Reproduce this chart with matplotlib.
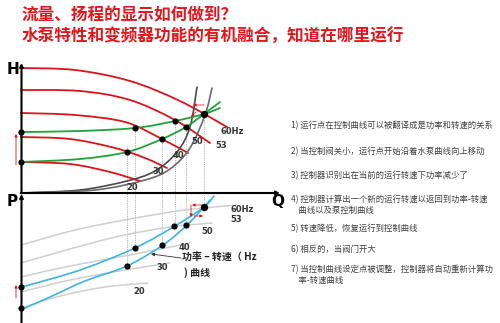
import numpy as np
import matplotlib
matplotlib.use("Agg")
import matplotlib.pyplot as plt
from matplotlib.path import Path
from matplotlib.patches import PathPatch

plt.rcParams['font.family'] = ['Noto Sans CJK SC', 'DejaVu Sans']

# ---------------- data (pixel units) ----------------
title_lines = ["流量、扬程的显示如何做到？", "水泵特性和变频器功能的有机融合，知道在哪里运行"]

# upper chart: pump curves at different speeds (H vs Q)
pump_labels = ["60Hz", "53", "50", "40", "30", "20"]
pump_60_x = [21, 75, 130, 180, 227]
pump_60_y = [68, 70, 81, 101, 127]
pump_53_x = [21, 80, 130, 175, 210]
pump_53_y = [90, 91, 100, 120, 143]
pump_50_x = [21, 75, 125, 160, 188]
pump_50_y = [113, 115, 122, 138, 153]
pump_40_x = [21, 70, 115, 145, 167]
pump_40_y = [137, 139, 148, 158, 168]
pump_30_x = [21, 70, 110, 140]
pump_30_y = [162, 164, 172, 181]

# green control curves
ctrl_a_x = [21, 80, 135, 175, 204, 220]
ctrl_a_y = [132, 131, 128, 121, 114, 108]
ctrl_b_x = [21, 80, 127, 162, 186, 204, 220]
ctrl_b_y = [162, 159, 152, 139, 127, 114, 102]

# system curves
sys_a_x = [21, 80, 127, 155, 177, 190, 197]
sys_a_y = [193, 190, 181, 171, 152, 127, 87]
sys_b_x = [21, 95, 145, 170, 190, 205, 212]
sys_b_y = [193, 190, 180, 169, 148, 115, 88]

# lower chart: power curves (P vs Q)
pow_60_x = [21, 75, 130, 185, 237]
pow_60_y = [245, 230, 219, 210, 205]
pow_50_x = [21, 70, 120, 170, 212]
pow_50_y = [263, 249, 236, 227, 223]
pow_40_x = [21, 70, 130, 190]
pow_40_y = [277, 266, 255, 243]
pow_30_x = [21, 70, 125, 170]
pow_30_y = [292, 280, 270, 263]
pow_20_x = [21, 60, 105, 148]
pow_20_y = [308, 296, 287, 283]

# blue power-speed curves
ps_a_x = [21, 40, 83, 135, 175, 204, 214]
ps_a_y = [287, 282, 269, 248, 226, 207, 196]
ps_b_x = [25, 50, 85, 127, 163, 187, 204, 210]
ps_b_y = [308, 297, 281, 266, 245, 225, 207, 200]

# operating points
up_dot_x = [21, 21, 135, 127, 162, 175, 186]
up_dot_y = [132, 162, 128, 152, 139, 121, 127]
lo_dot_x = [21, 21, 127, 135, 162, 174, 186]
lo_dot_y = [287, 308, 266, 248, 245, 226, 225]
main_dot_x = [204, 204]
main_dot_y = [114, 207]

# dotted verticals
drop_x = [127, 135, 162, 175, 186, 204]
drop_top = [146, 128, 139, 121, 127, 114]
drop_bot = [266, 248, 245, 226, 225, 207]

up_label_x = [232, 221, 197, 178, 158, 132]
up_label_y = [132, 146, 142, 155, 171, 187]
lo_label_x = [242, 236, 207, 184, 162, 139]
lo_label_y = [210, 219, 231, 247, 268, 292]

notes = [
    ("1) 运行点在控制曲线可以被翻译成是功率和转速的关系", 126),
    ("2) 当控制阀关小，运行点开始沿着水泵曲线向上移动", 152),
    ("3) 控制器识别出在当前的运行转速下功率减少了", 176),
    ("4) 控制器计算出一个新的运行转速以返回到功率-转速", 200),
    ("    曲线以及泵控制曲线", 210),
    ("5) 转速降低，恢复运行到控制曲线", 229),
    ("6) 相反的，当阀门开大", 250),
    ("7) 当控制曲线设定点被调整，控制器将自动重新计算功", 270),
    ("    率-转速曲线", 280),
]

# ---------------- drawing ----------------
fig = plt.figure(figsize=(5.0, 3.23), dpi=100)
ax = fig.add_axes([0, 0, 1, 1])
ax.set_xlim(0, 500)
ax.set_ylim(323, 0)
ax.axis('off')


def smooth(xs, ys, color, lw, z=2):
    pts = np.column_stack([xs, ys]).astype(float)
    verts = [pts[0]]
    codes = [Path.MOVETO]
    n = len(pts)
    for i in range(n - 1):
        p0 = pts[i - 1] if i > 0 else pts[i]
        p1 = pts[i]
        p2 = pts[i + 1]
        p3 = pts[i + 2] if i + 2 < n else pts[i + 1]
        c1 = p1 + (p2 - p0) / 6.0
        c2 = p2 - (p3 - p1) / 6.0
        verts += [c1, c2, p2]
        codes += [Path.CURVE4] * 3
    ax.add_patch(PathPatch(Path(verts, codes), fill=False, ec=color, lw=lw,
                           zorder=z, capstyle='round'))


RED = '#d9141c'
GREEN = '#1ea33a'
BLUE = '#3db5df'
LGREY = '#cfcfcf'

# title
ax.text(22, 15, title_lines[0], fontsize=12, weight='bold', color='#e3161d', va='center')
ax.text(22, 37, title_lines[1], fontsize=12, weight='bold', color='#e3161d', va='center')

# dotted drop lines
for x, t, b in zip(drop_x, drop_top, drop_bot):
    ax.plot([x, x], [t, b], ls=(0, (1, 1.2)), color='#9a9a9a', lw=0.6, zorder=1)

# lower power curves
for xs, ys in [(pow_60_x, pow_60_y), (pow_50_x, pow_50_y), (pow_40_x, pow_40_y),
               (pow_30_x, pow_30_y), (pow_20_x, pow_20_y)]:
    smooth(xs, ys, LGREY, 1.1, z=1.5)

# blue power-speed curves
smooth(ps_a_x, ps_a_y, BLUE, 1.2, z=3)
smooth(ps_b_x, ps_b_y, BLUE, 1.2, z=3)

# system curves
smooth(sys_a_x, sys_a_y, '#4a4a4a', 1.2, z=2.5)
smooth(sys_b_x, sys_b_y, '#6a6a6a', 1.2, z=2.5)

# red pump curves
for xs, ys in [(pump_60_x, pump_60_y), (pump_53_x, pump_53_y), (pump_50_x, pump_50_y),
               (pump_40_x, pump_40_y), (pump_30_x, pump_30_y)]:
    smooth(xs, ys, RED, 1.3, z=2)

# green control curves
smooth(ctrl_a_x, ctrl_a_y, GREEN, 1.3, z=3)
smooth(ctrl_b_x, ctrl_b_y, GREEN, 1.3, z=3)

# dots
ax.scatter(up_dot_x, up_dot_y, s=20, color='black', zorder=5, linewidths=0)
ax.scatter(lo_dot_x, lo_dot_y, s=20, color='black', zorder=5, linewidths=0)
ax.scatter(main_dot_x, main_dot_y, s=28, color='black', zorder=5, linewidths=0)

# axes
arrow_kw = dict(arrowstyle='-|>', lw=1.5, color='black', mutation_scale=5,
                shrinkA=0, shrinkB=0)
ax.annotate('', xy=(21.5, 63), xytext=(21.5, 193.5), arrowprops=arrow_kw, zorder=6)
ax.annotate('', xy=(280, 193), xytext=(20.8, 193), arrowprops=arrow_kw, zorder=6)
ax.annotate('', xy=(21.5, 194), xytext=(21.5, 324), arrowprops=arrow_kw, zorder=6)
ax.text(13.5, 70, 'H', fontsize=11, weight='bold', ha='center', va='center',
        family='DejaVu Sans')
ax.text(12.5, 201, 'P', fontsize=11, weight='bold', ha='center', va='center',
        family='DejaVu Sans')
ax.text(278, 201, 'Q', fontsize=11, weight='bold', ha='center', va='center',
        family='DejaVu Sans')

# small red arrows on the left
red_kw = dict(arrowstyle='-|>', lw=0.6, color=RED, mutation_scale=4, shrinkA=0, shrinkB=0)
ax.annotate('', xy=(16, 134), xytext=(16, 165), arrowprops=red_kw)
ax.annotate('', xy=(16, 285), xytext=(16, 298), arrowprops=red_kw)

# small red dashed steps near the operating point
rd_kw = dict(arrowstyle='-|>', lw=0.6, color=RED, mutation_scale=4, ls=(0, (2, 1)),
             shrinkA=0, shrinkB=0)
ax.annotate('', xy=(193, 105), xytext=(204, 105), arrowprops=rd_kw)
ax.annotate('', xy=(191, 117), xytext=(196, 112), arrowprops=rd_kw)
ax.annotate('', xy=(192, 205), xytext=(202, 205), arrowprops=rd_kw)
ax.annotate('', xy=(191, 217), xytext=(191, 205), arrowprops=rd_kw)
ax.annotate('', xy=(203, 216), xytext=(194, 216), arrowprops=rd_kw)

# labels
for lab, x, y in zip(pump_labels, up_label_x, up_label_y):
    ax.text(x, y, lab, fontsize=6, weight='bold', color='#333333', ha='center',
            va='center', family='DejaVu Sans')
for lab, x, y in zip(pump_labels, lo_label_x, lo_label_y):
    ax.text(x, y, lab, fontsize=6, weight='bold', color='#333333', ha='center',
            va='center', family='DejaVu Sans')

# annotation for power-speed curve
ax.annotate('', xy=(151, 254), xytext=(181, 258),
            arrowprops=dict(arrowstyle='-|>', lw=0.6, color='#333333',
                            mutation_scale=5, shrinkA=0, shrinkB=0))
ax.text(182, 258, '功率 – 转速（ Hz', fontsize=7.2, weight='bold', color='#222222',
        va='center', ha='left')
ax.text(184, 273, ') 曲线', fontsize=7.2, weight='bold', color='#222222',
        va='center', ha='left')

# notes
for txt, y in notes:
    ax.text(291, y, txt, fontsize=6, color='#404040', va='center', ha='left')

fig.savefig('out.png', dpi=100)
